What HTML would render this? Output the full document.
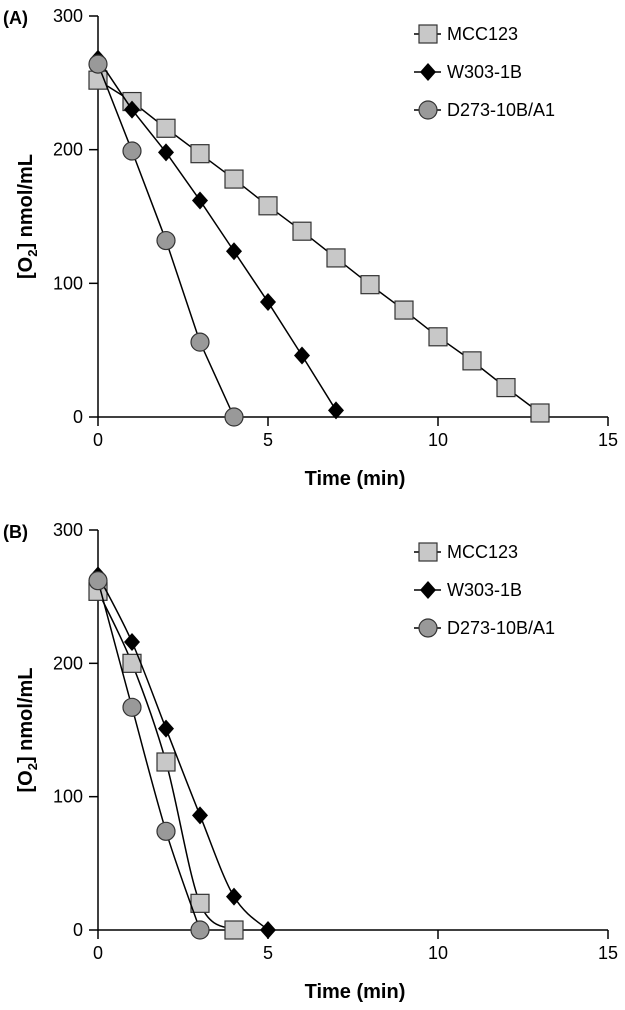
<!DOCTYPE html>
<html><head><meta charset="utf-8"><style>
body{margin:0;background:#fff}
svg text{font-family:"Liberation Sans",Arial,sans-serif;fill:#000}
</style></head><body>
<svg id="c" width="625" height="1005" xmlns="http://www.w3.org/2000/svg"></svg>
<script>
const xTicks=[0,5,10,15];
const yTicks=[0,100,200,300];
const seriesNames=["MCC123","W303-1B","D273-10B/A1"];
const aX_mcc=[0,1,2,3,4,5,6,7,8,9,10,11,12,13];
const aY_mcc=[252,236,216,197,178,158,139,119,99,80,60,42,22,3];
const aX_w=[0,1,2,3,4,5,6,7];
const aY_w=[268,230,198,162,124,86,46,5];
const aX_d=[0,1,2,3,4];
const aY_d=[264,199,132,56,0];
const bX_mcc=[0,1,2,3,4];
const bY_mcc=[254,200,126,20,0];
const bX_w=[0,1,2,3,4,5];
const bY_w=[266,216,151,86,25,0];
const bX_d=[0,1,2,3];
const bY_d=[262,167,74,0];

const NS="http://www.w3.org/2000/svg";
const svg=document.getElementById('c');
function el(t,a,p){const e=document.createElementNS(NS,t);for(const k in a)e.setAttribute(k,a[k]);(p||svg).appendChild(e);return e;}

function marker(g,type,cx,cy){
  let m;
  if(type===0)m=el('rect',{x:cx-9,y:cy-9,width:18,height:18,fill:'#c8c8c8',stroke:'#333','stroke-width':1.2},g);
  else if(type===1)m=el('polygon',{points:`${cx},${cy-9} ${cx+8},${cy} ${cx},${cy+9} ${cx-8},${cy}`,fill:'#000'},g);
  else m=el('circle',{cx:cx,cy:cy,r:9,fill:'#999',stroke:'#333','stroke-width':1.2},g);
  return m;
}
function smoothPath(pts,smooth){
  let d=`M${pts[0][0]},${pts[0][1]}`;
  for(let i=0;i<pts.length-1;i++){
    const p0=pts[Math.max(0,i-1)],p1=pts[i],p2=pts[i+1],p3=pts[Math.min(pts.length-1,i+2)];
    const t=smooth?6:1e9;
    d+=` C${p1[0]+(p2[0]-p0[0])/t},${p1[1]+(p2[1]-p0[1])/t} ${p2[0]-(p3[0]-p1[0])/t},${p2[1]-(p3[1]-p1[1])/t} ${p2[0]},${p2[1]}`;
  }
  return d;
}
function panel(label,y0,y300,data,legY,smooth,name){
  const g=el('g',{});
  
  
  const x0=98,x15=608;
  const sx=v=>x0+(x15-x0)*v/15;
  const sy=v=>y0+(y300-y0)*v/300;
  const lt=el('text',{x:3,y:y300+8,'font-size':18,'font-weight':'bold'},g);lt.textContent=label;
  
  el('line',{x1:x0,y1:y300,x2:x0,y2:y0,stroke:'#000','stroke-width':1.5},g);
  el('line',{x1:x0,y1:y0,x2:x15,y2:y0,stroke:'#000','stroke-width':1.5},g);
  yTicks.forEach(v=>{el('line',{x1:x0-9,y1:sy(v),x2:x0,y2:sy(v),stroke:'#000','stroke-width':1.5},g);
    const t=el('text',{x:x0-15,y:sy(v)+6,'font-size':18,'text-anchor':'end'},g);t.textContent=v;
    });
  xTicks.forEach(v=>{el('line',{x1:sx(v),y1:y0,x2:sx(v),y2:y0+9,stroke:'#000','stroke-width':1.5},g);
    const t=el('text',{x:sx(v),y:y0+29,'font-size':18,'text-anchor':'middle'},g);t.textContent=v;
    });
  const xt=el('text',{x:355,y:y0+68,'font-size':20,'font-weight':'bold','text-anchor':'middle'},g);xt.textContent='Time (min)';
  
  const cy=(y0+y300)/2;
  const yt=el('text',{x:0,y:0,'font-size':20,'font-weight':'bold','text-anchor':'middle',transform:`translate(32,${cy}) rotate(-90)`},g);
  yt.innerHTML='[O<tspan font-size="13" dy="5">2</tspan><tspan dy="-5">] nmol/mL</tspan>';
  
  data.forEach((s,i)=>{
    const pts=s[0].map((x,j)=>[sx(x),sy(s[1][j])]);
    const p=el('path',{d:smoothPath(pts,smooth),fill:'none',stroke:'#000','stroke-width':1.5},g);
    
    pts.forEach(q=>{const m=marker(g,i,q[0],q[1]);});
  });
  seriesNames.forEach((n,i)=>{
    const ly=legY+i*38;
    el('line',{x1:414,y1:ly,x2:441,y2:ly,stroke:'#000','stroke-width':1.5},g);
    const m=marker(g,i,428,ly);
    const t=el('text',{x:447,y:ly+6,'font-size':18},g);t.textContent=n;
    
  });
}
panel('(A)',417,16,[[aX_mcc,aY_mcc],[aX_w,aY_w],[aX_d,aY_d]],34,false,'panel-a');
panel('(B)',930,530,[[bX_mcc,bY_mcc],[bX_w,bY_w],[bX_d,bY_d]],552,true,'panel-b');
</script>
</body></html>
